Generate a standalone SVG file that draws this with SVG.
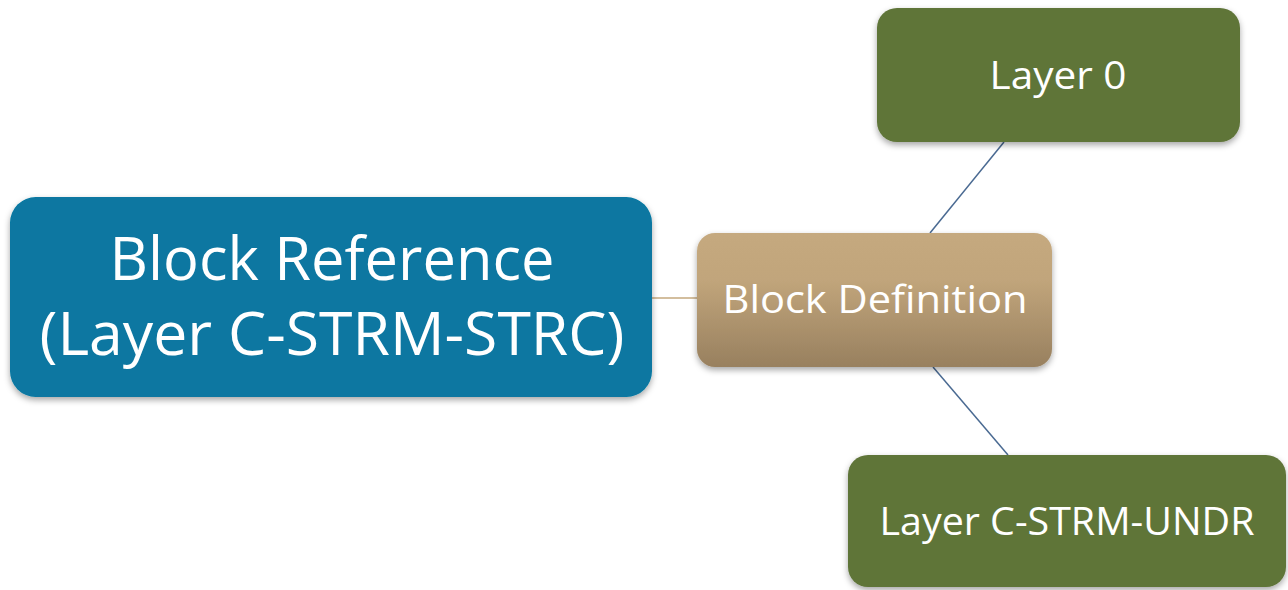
<svg xmlns="http://www.w3.org/2000/svg" width="1288" height="590" viewBox="0 0 1288 590">
<style>
.t{font-family:"Open Sans","Liberation Sans",sans-serif;fill:#ffffff;text-anchor:middle}
.sh{filter:url(#ds)}
</style>
<defs>
<filter id="ds" x="-10%" y="-10%" width="120%" height="130%">
<feDropShadow dx="0" dy="3" stdDeviation="3" flood-color="#000" flood-opacity="0.35"/>
</filter>
<linearGradient id="tan" x1="0" y1="0" x2="0" y2="1">
<stop offset="0" stop-color="#c5a97f"/>
<stop offset="0.35" stop-color="#c1a57b"/>
<stop offset="1" stop-color="#98805f"/>
</linearGradient>
</defs>
<rect width="1288" height="590" fill="#ffffff"/>
<g id="connectors" fill="none" stroke-width="1.5">
<line x1="652" y1="298" x2="697" y2="298" stroke="#c4a97e"/>
<line x1="930" y1="233" x2="1004" y2="142" stroke="#4a6a92"/>
<line x1="933" y1="367" x2="1008" y2="455" stroke="#4a6a92"/>
</g>
<g id="block-reference">
<rect class="sh" x="10" y="197" width="642" height="200" rx="26" fill="#0777a1"/>
<text class="t" x="332" y="280" font-size="60" textLength="445" lengthAdjust="spacingAndGlyphs">Block Reference</text>
<text class="t" x="332" y="355" font-size="60" textLength="585" lengthAdjust="spacingAndGlyphs">(Layer C-STRM-STRC)</text>
</g>
<g id="block-definition">
<rect class="sh" x="697" y="233" width="355" height="134" rx="18" fill="url(#tan)"/>
<text class="t" x="875" y="313" font-size="39" textLength="305" lengthAdjust="spacingAndGlyphs">Block Definition</text>
</g>
<g id="layer-0">
<rect class="sh" x="877" y="8" width="363" height="134" rx="20" fill="#5f7439"/>
<text class="t" x="1058" y="89" font-size="39" textLength="137" lengthAdjust="spacingAndGlyphs">Layer 0</text>
</g>
<g id="layer-c-strm-undr">
<rect class="sh" x="848" y="455" width="438" height="132" rx="20" fill="#5f7439"/>
<text class="t" x="1067" y="535" font-size="39" textLength="375" lengthAdjust="spacingAndGlyphs">Layer C-STRM-UNDR</text>
</g>
</svg>
